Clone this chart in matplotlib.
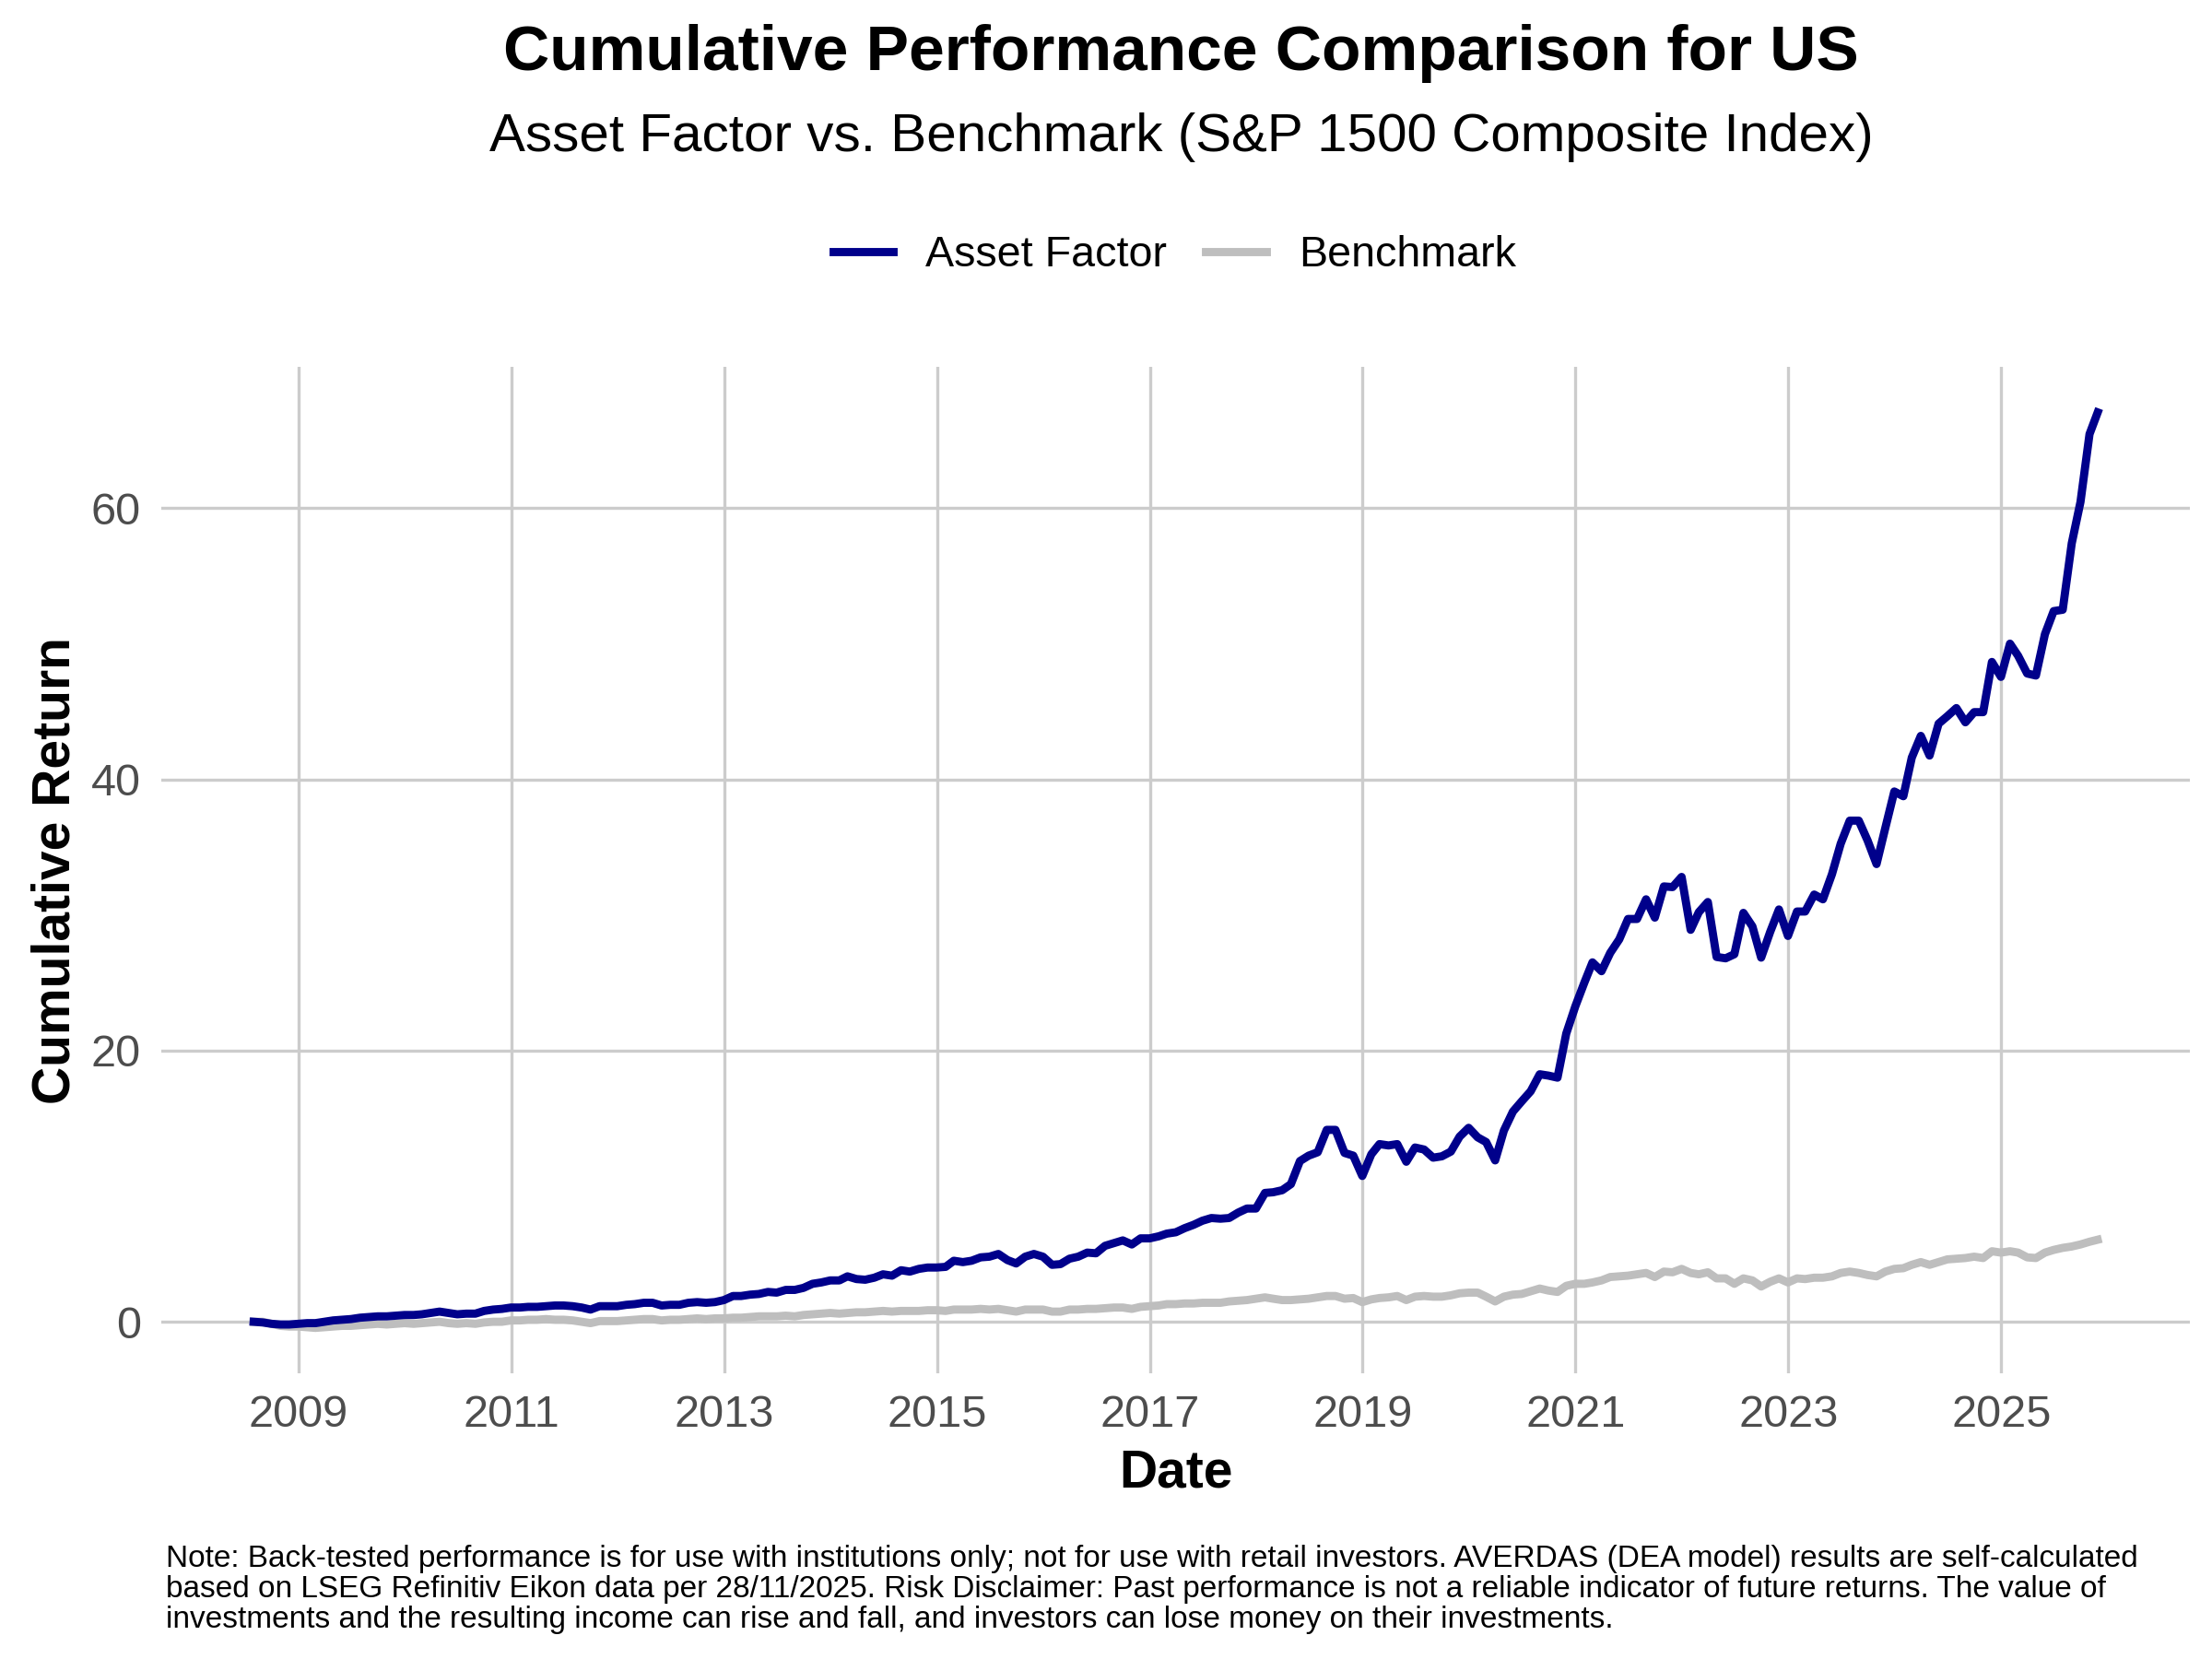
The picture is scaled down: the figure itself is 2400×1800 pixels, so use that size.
import matplotlib
matplotlib.use('Agg')
import matplotlib.pyplot as plt
import pandas as pd

plt.rcParams['font.family'] = ['Liberation Sans', 'DejaVu Sans']

# monthly cumulative returns, Jul 2008 .. Nov 2025 (month ends)
asset_factor = [
    0.0, -0.05, -0.15, -0.2, -0.2, -0.15,                               # 2008
    -0.1, -0.1, 0.0, 0.1, 0.15, 0.2, 0.3, 0.35, 0.4, 0.4, 0.45, 0.5,    # 2009
    0.5, 0.55, 0.65, 0.75, 0.65, 0.55, 0.6, 0.6, 0.8, 0.9, 0.95, 1.05,  # 2010
    1.05, 1.1, 1.1, 1.15, 1.2, 1.2, 1.15, 1.05, 0.9, 1.15, 1.15, 1.15,  # 2011
    1.25, 1.3, 1.4, 1.4, 1.2, 1.25, 1.25, 1.4, 1.45, 1.4, 1.45, 1.6,    # 2012
    1.9, 1.9, 2.0, 2.05, 2.2, 2.15, 2.35, 2.35, 2.5, 2.8, 2.9, 3.05,    # 2013
    3.05, 3.35, 3.15, 3.1, 3.25, 3.5, 3.4, 3.8, 3.7, 3.9, 4.0, 4.0,     # 2014
    4.05, 4.5, 4.4, 4.5, 4.75, 4.8, 5.0, 4.55, 4.3, 4.8, 5.0, 4.8,      # 2015
    4.2, 4.25, 4.65, 4.8, 5.1, 5.05, 5.6, 5.8, 6.0, 5.7, 6.15, 6.15,    # 2016
    6.3, 6.5, 6.6, 6.9, 7.15, 7.45, 7.65, 7.6, 7.65, 8.05, 8.35, 8.35,  # 2017
    9.5, 9.55, 9.7, 10.15, 11.85, 12.25, 12.5, 14.15, 14.15, 12.45, 12.25, 10.75,  # 2018
    12.35, 13.1, 13.0, 13.1, 11.8, 12.85, 12.7, 12.1, 12.2, 12.55, 13.65, 14.3,    # 2019
    13.6, 13.25, 11.9, 14.1, 15.5, 16.25, 17.0, 18.25, 18.15, 18.0, 21.25, 23.25,  # 2020
    25.0, 26.5, 25.85, 27.2, 28.2, 29.7, 29.7, 31.15, 29.8, 32.1, 32.05, 32.8,     # 2021
    28.9, 30.2, 30.95, 26.9, 26.8, 27.1, 30.15, 29.15, 26.85, 28.75, 30.4, 28.45,  # 2022
    30.25, 30.25, 31.5, 31.15, 33.0, 35.25, 36.95, 36.95, 35.5, 33.75, 36.4, 39.1, # 2023
    38.75, 41.6, 43.2, 41.75, 44.1, 44.65, 45.25, 44.2, 44.95, 44.95, 48.65, 47.55, # 2024
    50.0, 49.1, 47.8, 47.65, 50.7, 52.4, 52.5, 57.4, 60.45, 65.45, 67.05,          # 2025
]

benchmark = [
    0.0, 0.0, -0.15, -0.3, -0.35, -0.35,                                        # 2008
    -0.4, -0.45, -0.4, -0.35, -0.3, -0.3, -0.25, -0.2, -0.15, -0.2, -0.15, -0.1,  # 2009
    -0.15, -0.1, -0.05, 0.0, -0.1, -0.15, -0.1, -0.15, -0.05, 0.0, 0.0, 0.1,    # 2010
    0.1, 0.15, 0.15, 0.2, 0.15, 0.15, 0.1, 0.0, -0.1, 0.05, 0.05, 0.05,         # 2011
    0.1, 0.15, 0.2, 0.2, 0.1, 0.15, 0.15, 0.2, 0.25, 0.2, 0.25, 0.25,           # 2012
    0.3, 0.3, 0.35, 0.4, 0.4, 0.4, 0.45, 0.4, 0.5, 0.55, 0.6, 0.65,             # 2013
    0.6, 0.65, 0.7, 0.7, 0.75, 0.8, 0.75, 0.8, 0.8, 0.8, 0.85, 0.85,            # 2014
    0.8, 0.9, 0.9, 0.9, 0.95, 0.9, 0.95, 0.85, 0.75, 0.9, 0.9, 0.9,             # 2015
    0.75, 0.75, 0.9, 0.9, 0.95, 0.95, 1.0, 1.05, 1.05, 0.95, 1.1, 1.15,         # 2016
    1.2, 1.3, 1.3, 1.35, 1.35, 1.4, 1.4, 1.4, 1.5, 1.55, 1.6, 1.7,              # 2017
    1.8, 1.7, 1.6, 1.6, 1.65, 1.7, 1.8, 1.9, 1.9, 1.7, 1.75, 1.45,              # 2018
    1.65, 1.75, 1.8, 1.9, 1.6, 1.85, 1.9, 1.85, 1.85, 1.95, 2.1, 2.15,          # 2019
    2.15, 1.85, 1.5, 1.85, 2.0, 2.05, 2.25, 2.45, 2.3, 2.2, 2.65, 2.8,          # 2020
    2.8, 2.9, 3.05, 3.3, 3.35, 3.4, 3.5, 3.6, 3.3, 3.7, 3.65, 3.9,              # 2021
    3.6, 3.5, 3.65, 3.2, 3.2, 2.8, 3.2, 3.05, 2.6, 2.95, 3.2, 2.9,              # 2022
    3.2, 3.15, 3.25, 3.25, 3.35, 3.6, 3.7, 3.6, 3.45, 3.35, 3.7, 3.9,           # 2023
    3.95, 4.2, 4.4, 4.2, 4.4, 4.6, 4.65, 4.7, 4.8, 4.7, 5.2, 5.1,               # 2024
    5.2, 5.1, 4.75, 4.7, 5.1, 5.3, 5.45, 5.55, 5.7, 5.9, 6.05,                  # 2025
]

dates = pd.date_range('2008-07-31', periods=len(asset_factor), freq='ME')
dates = dates[:-1].append(pd.DatetimeIndex(['2025-11-28']))

year_ticks = list(range(2009, 2026, 2))
y_ticks = [0, 20, 40, 60]

fig = plt.figure(figsize=(12, 9), dpi=200)
ax = fig.add_axes([0.073, 0.172, 0.917, 0.607])

ax.plot(dates, benchmark, color='#BEBEBE', linewidth=3.2, label='Benchmark', zorder=3)
ax.plot(dates, asset_factor, color='#00008B', linewidth=3.2, label='Asset Factor', zorder=4)

# ggplot-style 5% expansion
span = dates[-1] - dates[0]
ax.set_xlim(dates[0] - span * 0.05, dates[-1] + span * 0.05)
lo = min(min(asset_factor), min(benchmark))
hi = max(max(asset_factor), max(benchmark))
ax.set_ylim(lo - (hi - lo) * 0.05, hi + (hi - lo) * 0.05)

ax.set_xticks(pd.to_datetime([f'{y}-01-01' for y in year_ticks]))
ax.set_xticklabels([str(y) for y in year_ticks])
ax.set_yticks(y_ticks)
ax.tick_params(length=0, labelsize=17.5, labelcolor='#4D4D4D', pad=8)

ax.grid(True, color='#CCCCCC', linewidth=1.2)
ax.set_axisbelow(True)
for s in ax.spines.values():
    s.set_visible(False)

ax.set_xlabel('Date', fontsize=20.5, fontweight='bold', labelpad=5)
ax.set_ylabel('Cumulative Return', fontsize=20.5, fontweight='bold', labelpad=4)

fig.text(0.534, 0.968, 'Cumulative Performance Comparison for US',
         ha='center', va='center', fontsize=25, fontweight='bold')
fig.text(0.534, 0.917, 'Asset Factor vs. Benchmark (S&P 1500 Composite Index)',
         ha='center', va='center', fontsize=21)

h, l = ax.get_legend_handles_labels()
fig.legend(h[::-1], l[::-1], loc='center', bbox_to_anchor=(0.531, 0.846), ncol=2,
           frameon=False, fontsize=16.8, handlelength=1.4, columnspacing=0.9,
           handletextpad=0.75)

note = ('Note: Back-tested performance is for use with institutions only; not for use with retail investors. '
        'AVERDAS (DEA model) results are self-calculated\n'
        'based on LSEG Refinitiv Eikon data per 28/11/2025. Risk Disclaimer: Past performance is not a reliable '
        'indicator of future returns. The value of\n'
        'investments and the resulting income can rise and fall, and investors can lose money on their investments.')
fig.text(0.075, 0.069, note, ha='left', va='top', fontsize=12, linespacing=1.08)

plt.savefig('out.png')
plt.close()
